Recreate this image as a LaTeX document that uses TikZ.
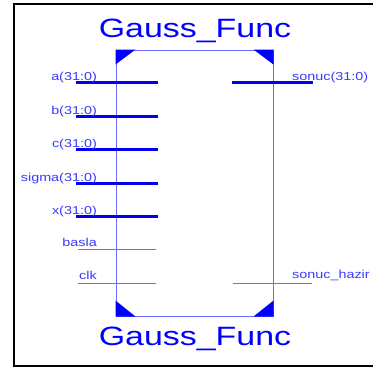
\documentclass[tikz,border=0pt]{standalone}
\usepackage{fontspec}
\setmainfont{Liberation Sans}
\definecolor{titleblue}{HTML}{0000FF}
\definecolor{lblblue}{HTML}{3A3AFF}
\definecolor{busblue}{HTML}{0000EE}
\definecolor{thinblue}{HTML}{6C6CFF}
\newcommand{\lblfont}{\fontsize{11.5}{13}\selectfont}
\newcommand{\ttlfont}{\fontsize{26.5}{30}\selectfont}
\newcommand{\widetext}[2]{\scalebox{#1}[1]{#2}}
\begin{document}
\begin{tikzpicture}[x=1pt,y=-1pt,
  frame/.style={draw=black,line width=2pt},
  blockbox/.style={draw=thinblue,line width=1pt,minimum width=157pt,minimum height=266pt,inner sep=0pt},
  bus/.style={draw=busblue,line width=3pt},
  wire/.style={draw=thinblue,line width=0.9pt},
  corner/.style={fill=titleblue,draw=none},
  lbl/.style={text=lblblue,inner sep=0pt,font=\lblfont},
  ttl/.style={text=titleblue,inner sep=0pt,font=\ttlfont}]
\useasboundingbox (0,0) rectangle (373,367);
\fill[white] (0,0) rectangle (373,367);
% outer frame (right side cut off)
\draw[frame] (373,4) -- (14,4) -- (14,366) -- (373,366);
% block
\node[blockbox] (blk) at (194.5,183) {};
\fill[corner] (blk.north west) -- ++(20,0) -- ++(-20,15) -- cycle;
\fill[corner] (blk.north east) -- ++(-20,0) -- ++(20,15) -- cycle;
\fill[corner] (blk.south west) -- ++(20,0) -- ++(-20,-16) -- cycle;
\fill[corner] (blk.south east) -- ++(-20,0) -- ++(20,-16) -- cycle;
% titles
\node[ttl,anchor=base] (ttop) at (195,37) {\widetext{1.28}{Gauss\_Func}};
\node[ttl,anchor=base] (tbot) at (195,345) {\widetext{1.28}{Gauss\_Func}};
% pin end coordinates
\foreach \n/\y in {a/82,b/116,c/149,s/183,x/216}{
  \coordinate (\n0) at (76,\y);
  \coordinate (\n1) at (158,\y);
  \draw[bus] (\n0) -- (\n1);
}
\foreach \n/\y in {basla/249,clk/283}{
  \coordinate (\n0) at (78,\y);
  \coordinate (\n1) at (156,\y);
  \draw[wire] (\n0) -- (\n1);
}
\coordinate (so0) at (232,82);
\coordinate (so1) at (313,82);
\draw[bus] (so0) -- (so1);
\coordinate (sh0) at (233,283);
\coordinate (sh1) at (312,283);
\draw[wire] (sh0) -- (sh1);
% labels
\node[lbl,anchor=base east] (la) at (97,80) {\widetext{1.25}{a(31:0)}};
\node[lbl,anchor=base east] (lb) at (97,114) {\widetext{1.25}{b(31:0)}};
\node[lbl,anchor=base east] (lc) at (97,147) {\widetext{1.25}{c(31:0)}};
\node[lbl,anchor=base east] (ls) at (97,181) {\widetext{1.25}{sigma(31:0)}};
\node[lbl,anchor=base east] (lx) at (97,214) {\widetext{1.25}{x(31:0)}};
\node[lbl,anchor=base east] (lbasla) at (97,246) {\widetext{1.25}{basla}};
\node[lbl,anchor=base east] (lclk) at (97,279) {\widetext{1.25}{clk}};
\node[lbl,anchor=base west] (lso) at (292,80) {\widetext{1.25}{sonuc(31:0)}};
\node[lbl,anchor=base west] (lsh) at (292,278) {\widetext{1.25}{sonuc\_hazir}};
\end{tikzpicture}
\end{document}
